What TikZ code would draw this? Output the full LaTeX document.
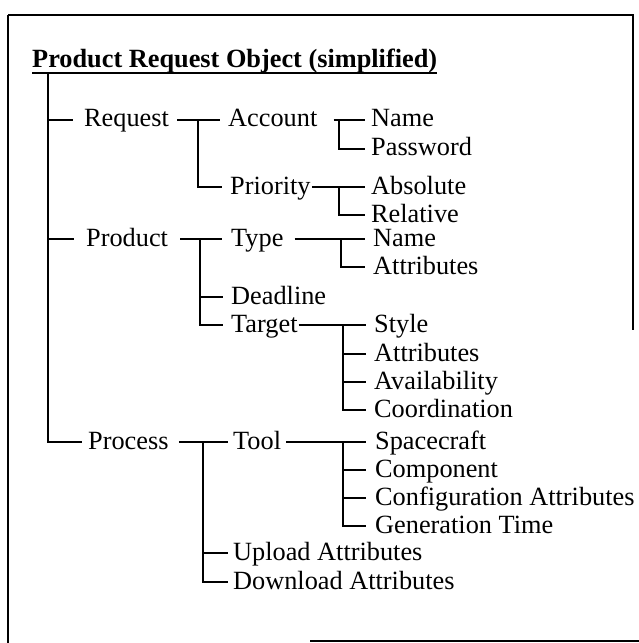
\documentclass[tikz,border=0pt]{standalone}
\usepackage{fontspec}
\setmainfont{Liberation Serif}
\begin{document}
\begin{tikzpicture}[x=1bp,y=-1bp,
  lbl/.style={anchor=west, inner sep=0pt, text height=19bp, text depth=5bp,
    font=\fontsize{26.4}{28}\selectfont},
  conn/.style={line width=1.8bp},
  frame/.style={line width=2bp}]
\useasboundingbox (0,0) rectangle (639,643);

% frame (as scanned)
\draw[frame] (8,15) -- (633,15) -- (633,330);
\draw[frame] (8,15) -- (8,643);
\draw[frame] (310,641) -- (639,641);

% title
\node[anchor=base west, inner sep=0pt, text depth=5bp,
  font=\fontsize{26.4}{28}\selectfont\bfseries] (title) at (32,68) {Product Request Object (simplified)};
\draw[line width=1.9bp] (title.south west) -- (title.south east);

% level 1
\node[lbl] (request) at (84,120) {Request};
\node[lbl] (product) at (86,239) {Product};
\node[lbl] (process) at (88,442) {Process};

% level 2
\node[lbl] (account)  at (228,120) {Account};
\node[lbl] (priority) at (230,187) {Priority};
\node[lbl] (type)     at (231,239) {Type};
\node[lbl] (deadline) at (231,297) {Deadline};
\node[lbl] (target)   at (231,325) {Target};
\node[lbl] (tool)     at (233,442) {Tool};
\node[lbl] (upload)   at (233,553) {Upload Attributes};
\node[lbl] (download) at (233,582) {Download Attributes};

% level 3
\node[lbl] (name1)    at (371,120) {Name};
\node[lbl] (password) at (371,149) {Password};
\node[lbl] (absolute) at (371,187) {Absolute};
\node[lbl] (relative) at (371,215) {Relative};
\node[lbl] (name2)    at (373,239) {Name};
\node[lbl] (tattr)    at (373,267) {Attributes};
\node[lbl] (style)    at (374,325) {Style};
\node[lbl] (gattr)    at (374,354) {Attributes};
\node[lbl] (avail)    at (374,382) {Availability};
\node[lbl] (coord)    at (374,410) {Coordination};
\node[lbl] (space)    at (375,442) {Spacecraft};
\node[lbl] (comp)     at (375,470) {Component};
\node[lbl] (config)   at (375,498) {Configuration Attributes};
\node[lbl] (gentime)  at (375,526) {Generation Time};

% junction points
\coordinate (trunk) at (48,73);
\coordinate (jreq) at (198,120);
\coordinate (jacc) at (339,120);
\coordinate (jpri) at (339,187);
\coordinate (jprod) at (200,239);
\coordinate (jtype) at (341,239);
\coordinate (jtarg) at (343,325);
\coordinate (jproc) at (203,442);
\coordinate (jtool) at (343,442);

% trunk
\draw[conn] (trunk) |- ([xshift=-6bp]process.west);
\draw[conn] (trunk |- request.west) -- ([xshift=-11bp]request.west);
\draw[conn] (trunk |- product.west) -- ([xshift=-12bp]product.west);

% Request
\draw[conn] ([xshift=8bp]request.east) -- ([xshift=-8bp]account.west);
\draw[conn] (jreq) |- ([xshift=-8bp]priority.west);
\draw[conn] ([xshift=16bp]account.east) -- ([xshift=-6bp]name1.west);
\draw[conn] (jacc) |- ([xshift=-6bp]password.west);
\draw[conn] ([xshift=1bp]priority.east) -- ([xshift=-6bp]absolute.west);
\draw[conn] (jpri) |- ([xshift=-6bp]relative.west);

% Product
\draw[conn] ([xshift=12bp]product.east) -- ([xshift=-9bp]type.west);
\draw[conn] (jprod) |- ([xshift=-8bp]deadline.west);
\draw[conn] (jprod) |- ([xshift=-8bp]target.west);
\draw[conn] ([xshift=11bp]type.east) -- ([xshift=-8bp]name2.west);
\draw[conn] (jtype) |- ([xshift=-8bp]tattr.west);
\draw[conn] ([xshift=1bp]target.east) -- ([xshift=-8bp]style.west);
\draw[conn] (jtarg |- gattr.west) -- ([xshift=-8bp]gattr.west);
\draw[conn] (jtarg |- avail.west) -- ([xshift=-8bp]avail.west);
\draw[conn] (jtarg) |- ([xshift=-8bp]coord.west);

% Process
\draw[conn] ([xshift=10bp]process.east) -- ([xshift=-5bp]tool.west);
\draw[conn] (jproc |- upload.west) -- ([xshift=-5bp]upload.west);
\draw[conn] (jproc) |- ([xshift=-5bp]download.west);
\draw[conn] ([xshift=5bp]tool.east) -- ([xshift=-9bp]space.west);
\draw[conn] (jtool |- comp.west) -- ([xshift=-9bp]comp.west);
\draw[conn] (jtool |- config.west) -- ([xshift=-9bp]config.west);
\draw[conn] (jtool) |- ([xshift=-9bp]gentime.west);
\end{tikzpicture}
\end{document}
